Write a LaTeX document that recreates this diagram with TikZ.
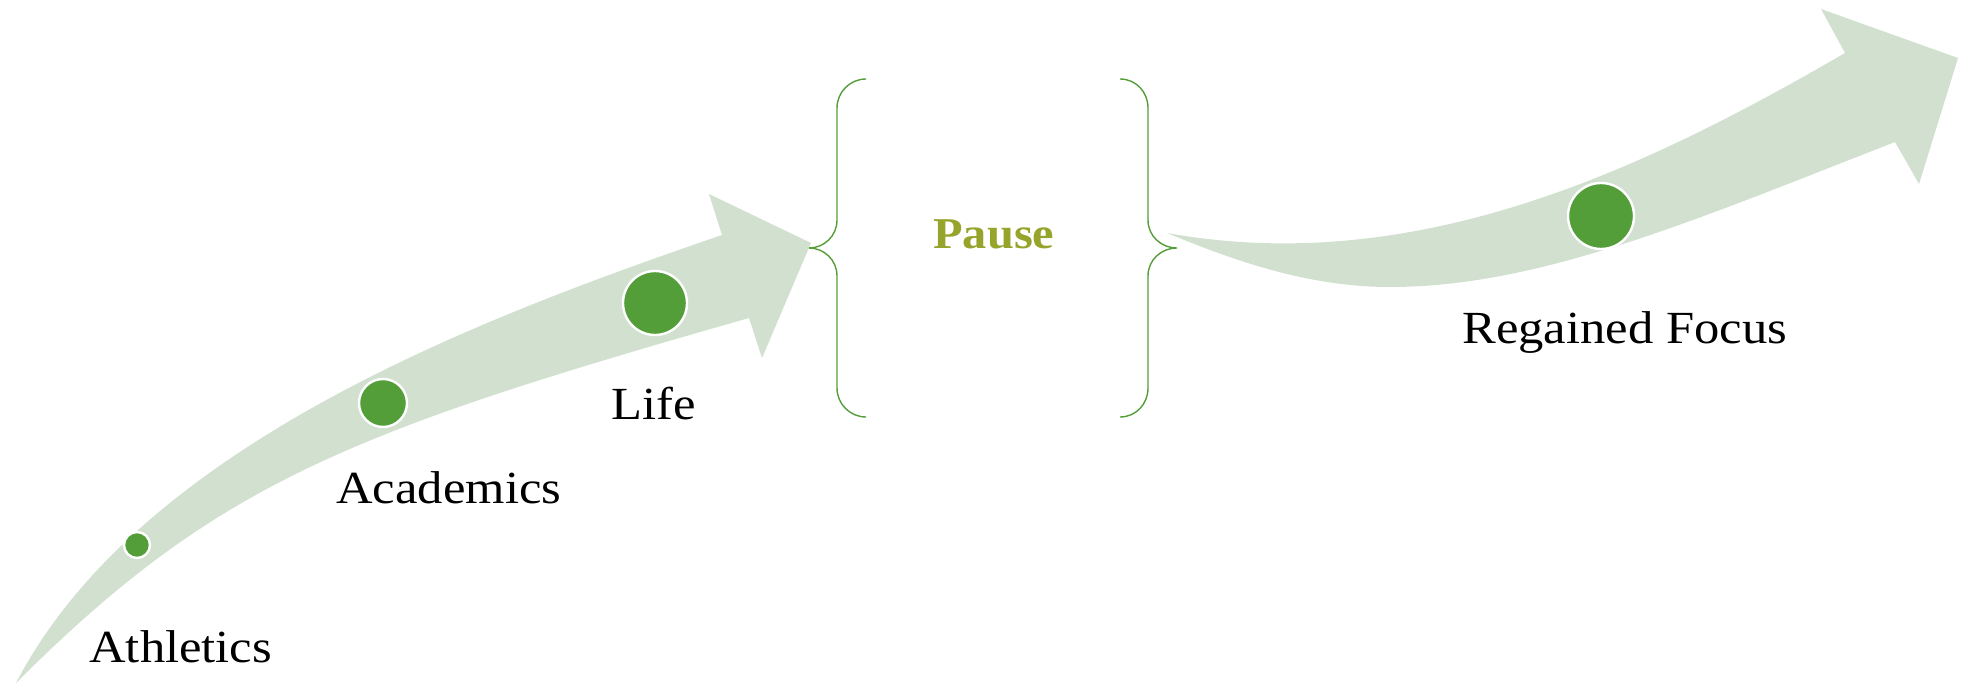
\documentclass[tikz,border=0pt]{standalone}
\usepackage{fontspec}
\setmainfont{Liberation Serif}[FakeStretch=1.1]
\definecolor{arrowfill}{HTML}{D1E0CF}
\definecolor{dotgreen}{HTML}{549E39}
\definecolor{pauseolive}{HTML}{97A42B}
\begin{document}
\begin{tikzpicture}[x=0.5pt,y=-0.5pt,
  dot/.style={circle, fill=dotgreen, draw=white, line width=1.2pt, inner sep=0pt},
  txt/.style={font=\fontsize{23}{27}\selectfont, inner sep=0pt, anchor=base west},
  band/.style={fill=arrowfill},
  bracket/.style={draw=dotgreen, line width=0.7pt}]
\useasboundingbox (0,0) rectangle (1963,684);

% left curved arrow
\fill[band] (16,683) .. controls (140,445) and (480,318) .. (722,235)
  -- (709,194) -- (811,243) -- (762,358) -- (749,318)
  .. controls (349,432) and (216,483) .. (16,683) -- cycle;

% right curved arrow
\fill[band] (1167,233) .. controls (1417,278) and (1645,169) .. (1845,53)
  -- (1821,9) -- (1958,58) -- (1919,184) -- (1895,142)
  .. controls (1695,220) and (1540,287) .. (1390,287)
  .. controls (1310,287) and (1237,262) .. (1167,233) -- cycle;

% braces
\draw[bracket] (866,79) .. controls (850,79) and (837,92) .. (837,108) -- (837,220)
  .. controls (837,236) and (824,248) .. (809,248)
  .. controls (824,248) and (837,260) .. (837,276) -- (837,388)
  .. controls (837,404) and (850,417) .. (866,417);
\draw[bracket] (1120,79) .. controls (1136,79) and (1148,92) .. (1148,108) -- (1148,220)
  .. controls (1148,236) and (1161,248) .. (1177,248)
  .. controls (1161,248) and (1148,260) .. (1148,276) -- (1148,388)
  .. controls (1148,404) and (1136,417) .. (1120,417);

% dots
\node[dot, minimum size=13pt] (d1) at (137,545) {};
\node[dot, minimum size=24pt] (d2) at (383,403) {};
\node[dot, minimum size=32pt] (d3) at (655,303) {};
\node[dot, minimum size=33pt] (d4) at (1601,216) {};

% labels
\node[txt] (t1) at (89,662) {Athletics};
\node[txt] (t2) at (336,503) {Academics};
\node[txt] (t3) at (611,419) {Life};
\node[txt] (t4) at (1462,343) {Regained Focus};
\node[txt, font=\fontsize{22}{26}\selectfont\bfseries, text=pauseolive] (pause) at (933,249) {Pause};
\end{tikzpicture}
\end{document}
